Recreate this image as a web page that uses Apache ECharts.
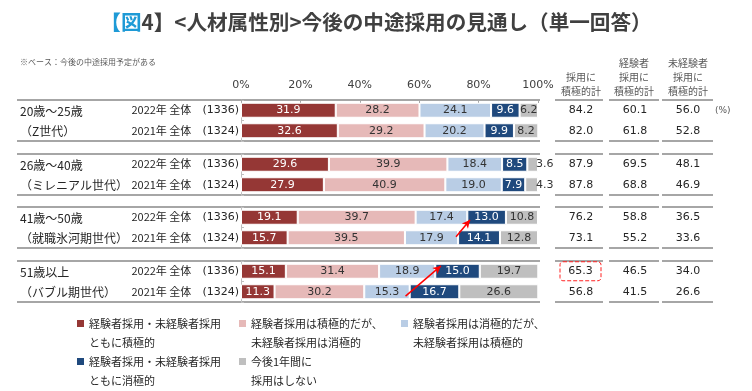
<!DOCTYPE html>
<html><head><meta charset="utf-8">
<script src="https://cdn.jsdelivr.net/npm/echarts@6/dist/echarts.min.js"></script>
<style>html,body{margin:0;padding:0;background:#fff}#c{width:752px;height:391px}</style>
</head><body><div id="c"></div>
<script>
// ---------- data ----------
const groupNames = ['20歳～25歳', '26歳～40歳', '41歳～50歳', '51歳以上'];
const groupSubs = ['（Z世代）', '（ミレニアル世代）', '（就職氷河期世代）', '（バブル期世代）'];
const rowYears = ['2022年 全体', '2021年 全体'];
const rowN = [1336, 1324, 1336, 1324, 1336, 1324, 1336, 1324];
const seriesNames = [
  '経験者採用・未経験者採用\nともに積極的',
  '経験者採用は積極的だが、\n未経験者採用は消極的',
  '経験者採用は消極的だが、\n未経験者採用は積極的',
  '経験者採用・未経験者採用\nともに消極的',
  '今後1年間に\n採用はしない'
];
const valBoth     = [31.9, 32.6, 29.6, 27.9, 19.1, 15.7, 15.1, 11.3];
const valExpOnly  = [28.2, 29.2, 39.9, 40.9, 39.7, 39.5, 31.4, 30.2];
const valInexpOnly= [24.1, 20.2, 18.4, 19.0, 17.4, 17.9, 18.9, 15.3];
const valNeither  = [9.6, 9.9, 8.5, 7.9, 13.0, 14.1, 15.0, 16.7];
const valNone     = [6.2, 8.2, 3.6, 4.3, 10.8, 12.8, 19.7, 26.6];
const tickLabels = ['0%', '20%', '40%', '60%', '80%', '100%'];
const colHeaders = [['採用に', '積極的計'], ['経験者', '採用に', '積極的計'], ['未経験者', '採用に', '積極的計']];
const totPositive   = [84.2, 82.0, 87.9, 87.8, 76.2, 73.1, 65.3, 56.8];
const expPositive   = [60.1, 61.8, 69.5, 68.8, 58.8, 55.2, 46.5, 41.5];
const inexpPositive = [56.0, 52.8, 48.1, 46.9, 36.5, 33.6, 34.0, 26.6];
const titleLead = '【図';
const titleRest = '4】<人材属性別>今後の中途採用の見通し（単一回答）';
const baseNote = '※ベース：今後の中途採用予定がある';

// ---------- layout / style ----------
const values = [valBoth, valExpOnly, valInexpOnly, valNeither, valNone];
const colors = ['#953735', '#E6B9B8', '#B9CDE5', '#1F497D', '#BFBFBF'];
const labelColors = ['#ffffff', '#333333', '#333333', '#ffffff', '#333333'];
const gridTops = [100, 154, 207, 261];
const gridH = 41;
const plotLeft = 241, plotRight = 538;
const boxedRow = 6; // red dashed highlight in first table column
const NUM = 'DejaVu Sans';
const JP = 'Noto Sans CJK JP';

const chart = echarts.init(document.getElementById('c'), null, {renderer: 'canvas'});

const grids = [], xAxes = [], yAxes = [], series = [];
gridTops.forEach((top, g) => {
  grids.push({left: plotLeft, width: plotRight - plotLeft, top: top, height: gridH, containLabel: false});
  xAxes.push({
    type: 'value', gridIndex: g, min: 0, max: 100, interval: 20, position: 'top',
    axisLine: {show: false},
    axisTick: {show: g === 0, inside: true, length: 3, lineStyle: {color: '#a6a6a6'}},
    splitLine: {show: false},
    axisLabel: {show: g === 0, margin: 9, formatter: v => tickLabels[Math.round(v / 20)],
      fontFamily: NUM, fontSize: 11, color: '#404040'}
  });
  yAxes.push({
    type: 'category', gridIndex: g, data: rowYears, inverse: true,
    axisLine: {show: true, lineStyle: {color: '#bfbfbf', width: 1}},
    axisTick: {show: true, inside: true, length: 3, lineStyle: {color: '#bfbfbf'}},
    axisLabel: {
      margin: 2,
      formatter: (v, i) => '{a|' + v + '}{b|(' + rowN[g * 2 + i] + ')}',
      rich: {
        a: {width: 71, align: 'left', fontFamily: JP, fontSize: 11, color: '#262626'},
        b: {fontFamily: NUM, fontSize: 11, color: '#262626'}
      }
    }
  });
  yAxes.push({
    type: 'category', gridIndex: g, data: rowYears, inverse: true, position: 'right',
    axisLine: {show: false}, axisTick: {show: false},
    axisLabel: {
      margin: 16,
      formatter: (v, i) => {
        const r = g * 2 + i;
        const a = r === boxedRow
          ? '{sp|}{box|' + totPositive[r].toFixed(1) + '}{sp2|}'
          : '{a|' + totPositive[r].toFixed(1) + '}';
        return a + '{b|' + expPositive[r].toFixed(1) + '}{c|' + inexpPositive[r].toFixed(1) + '}' +
          (r === 0 ? '{d|(%)}' : '');
      },
      rich: {
        a: {width: 54, align: 'center', fontFamily: NUM, fontSize: 11, color: '#262626'},
        b: {width: 54, align: 'center', fontFamily: NUM, fontSize: 11, color: '#262626'},
        c: {width: 52, align: 'center', fontFamily: NUM, fontSize: 11, color: '#262626'},
        d: {align: 'left', fontFamily: NUM, fontSize: 9, color: '#595959', padding: [0, 0, 0, 1]},
        sp: {width: 6},
        sp2: {width: 7},
        box: {width: 41, height: 19, align: 'center', fontFamily: NUM, fontSize: 11, color: '#262626',
          borderColor: '#ff2020', borderWidth: 1, borderType: 'dashed', borderRadius: 3}
      }
    }
  });
  values.forEach((arr, s) => {
    series.push({
      type: 'bar', id: 's' + s + 'g' + g, name: seriesNames[s], stack: 'g' + g,
      xAxisIndex: g, yAxisIndex: g * 2, barWidth: 15,
      data: arr.slice(g * 2, g * 2 + 2),
      itemStyle: {color: colors[s], borderColor: '#ffffff', borderWidth: 1},
      label: {
        show: true, position: 'inside', fontFamily: NUM, fontSize: 11, color: labelColors[s],
        formatter: p => p.value.toFixed(1)
      }
    });
  });
});
// small trailing segments: label sits just outside the bar end
series.forEach(se => {
  if (se.id.startsWith('s4')) {
    se.data = se.data.map(v => v < 5 ? {value: v, label: {position: 'right', distance: -2}} : v);
  }
});

// decorative separators and texts
const graphics = [];
const segs = [[17, 540], [555, 603], [609, 659], [662, 713]];
gridTops.forEach((top, g) => {
  [top, top + gridH].forEach(y => {
    segs.forEach(([x1, x2]) => graphics.push({
      type: 'line', silent: true, shape: {x1: x1, y1: y, x2: x2, y2: y},
      style: {stroke: '#a6a6a6', lineWidth: 2}
    }));
  });
  graphics.push({type: 'text', x: 20, y: top + 11, style: {text: groupNames[g], fontFamily: JP, fontSize: 12,
    fill: '#262626', verticalAlign: 'middle', align: 'left'}});
  graphics.push({type: 'text', x: 20, y: top + 31, style: {text: groupSubs[g], fontFamily: JP, fontSize: 12,
    fill: '#262626', verticalAlign: 'middle', align: 'left'}});
});
const colCenters = [581, 634, 688];
colHeaders.forEach((lines, c) => {
  lines.slice().reverse().forEach((t, k) => graphics.push({
    type: 'text', x: colCenters[c], y: 91 - k * 14,
    style: {text: t, fontFamily: JP, fontSize: 10, fill: '#595959', align: 'center', verticalAlign: 'middle'}
  }));
});
graphics.push({type: 'text', x: 20, y: 62, style: {text: baseNote, fontFamily: JP, fontSize: 8,
  fill: '#595959', verticalAlign: 'middle'}});

chart.setOption({
  animation: false,
  backgroundColor: '#ffffff',
  title: {
    text: '{l|' + titleLead + '}{r|' + titleRest + '}', left: 'center', top: 7,
    textStyle: {rich: {
      l: {fontFamily: JP, fontSize: 20.6, fontWeight: 'bold', color: '#1E9AD6'},
      r: {fontFamily: JP, fontSize: 20.6, fontWeight: 'bold', color: '#404040'}
    }}
  },
  legend: {
    data: seriesNames, left: 72, top: 309, width: 500, orient: 'horizontal',
    itemWidth: 7, itemHeight: 38, itemGap: 0, selectedMode: false,
    icon: 'path://M0,6h7v7h-7z M0,0 M7,38',
    itemStyle: {borderWidth: 0},
    formatter: name => name.split('\n').map(s => '{t|' + s + '}').join('\n'),
    textStyle: {rich: {t: {width: 150, lineHeight: 19, fontFamily: JP, fontSize: 11, color: '#262626'}}}
  },
  grid: grids, xAxis: xAxes, yAxis: yAxes, series: series,
  graphic: graphics
});

// annotation arrows (drawn through the chart's own coordinate conversion)
function pt(sid, xv, t) {
  const p0 = chart.convertToPixel({seriesId: sid}, [xv, 0]);
  const p1 = chart.convertToPixel({seriesId: sid}, [xv, 1]);
  return {x: p0[0], y: p0[1] + t * (p1[1] - p0[1])};
}
const arrowStyle = {
  silent: true, symbol: ['none', 'arrow'], symbolSize: [6, 8], animation: false,
  lineStyle: {color: '#ff0000', width: 1.5, type: 'solid'}, label: {show: false}
};
chart.setOption({series: [
  {id: 's4g2', markLine: Object.assign({}, arrowStyle, {data: [[pt('s4g2', 72.4, 0.95), pt('s4g2', 77.1, 0.13)]]})},
  {id: 's4g3', markLine: Object.assign({}, arrowStyle, {data: [[pt('s4g3', 55.4, 1.21), pt('s4g3', 67.3, -0.26)]]})}
]});
</script>
</body></html>
